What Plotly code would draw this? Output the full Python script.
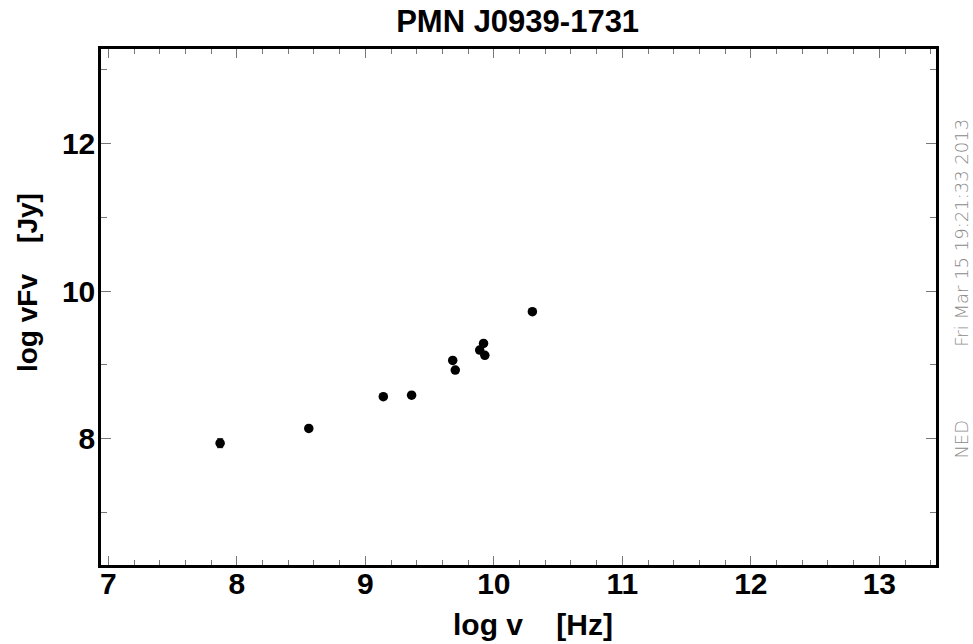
import plotly.graph_objects as go

# Data (log frequency [Hz], log nuFnu [Jy])
log_nu = [7.87, 8.56, 9.14, 9.36, 9.68, 9.70, 9.92, 9.89, 9.93, 10.30]
log_nufnu = [7.94, 8.14, 8.57, 8.59, 9.06, 8.93, 9.29, 9.20, 9.13, 9.72]
err = [0.06, 0, 0, 0, 0, 0, 0, 0, 0, 0]

NB = "\u00a0"
title_text = "PMN J0939-1731"
x_title = "log v" + NB * 4 + "[Hz]"
y_title = "log vFv" + NB * 4 + "[Jy]"
stamp = "Fri Mar 15 19:21:33 2013"
source = "NED"

fig = go.Figure()
fig.add_trace(go.Scatter(
    x=log_nu, y=log_nufnu, mode="markers",
    marker=dict(size=9.5, color="black"),
    error_y=dict(type="data", array=err, visible=True, color="black", thickness=1, width=3),
    showlegend=False,
))

font_main = "Liberation Sans, Arial, sans-serif"
stamp_font = dict(family="DejaVu Sans, sans-serif", size=18, color="#8a8a8a", weight=300)

fig.update_layout(
    width=973, height=644,
    margin=dict(l=101, r=37, t=49, b=79),
    paper_bgcolor="white", plot_bgcolor="white",
    title=dict(text=title_text, x=0.532, xanchor="center", y=0.967, yanchor="middle",
               font=dict(family=font_main, size=31, color="black", weight="bold")),
    font=dict(family=font_main, color="black"),
    annotations=[
        dict(text=x_title, xref="paper", yref="paper", x=0.517, y=-0.116,
             showarrow=False, xanchor="center", yanchor="middle",
             font=dict(family=font_main, size=30, color="black", weight="bold")),
        dict(text=y_title, xref="paper", yref="paper", x=-0.0886, y=0.5465,
             textangle=-90, showarrow=False, xanchor="center", yanchor="middle",
             font=dict(family=font_main, size=28, color="black", weight="bold")),
        dict(text=stamp, xref="paper", yref="paper", x=1.0, y=0.644, xshift=26,
             textangle=-90, showarrow=False, xanchor="center", yanchor="middle",
             font=stamp_font),
        dict(text=source, xref="paper", yref="paper", x=1.0, y=0.243, xshift=26,
             textangle=-90, showarrow=False, xanchor="center", yanchor="middle",
             font=stamp_font),
    ],
)

fig.update_xaxes(
    range=[6.943, 13.441], showgrid=False, zeroline=False,
    showline=True, linecolor="black", linewidth=2.5, mirror="allticks",
    ticks="inside", ticklen=9, tickwidth=1, tickcolor="#777",
    tick0=0, dtick=1, ticklabelstandoff=-10,
    minor=dict(ticks="inside", ticklen=5, tickwidth=1, tickcolor="#777", dtick=0.2, tick0=0, showgrid=False),
    tickfont=dict(family=font_main, size=30, color="black", weight="bold"),
)
fig.update_yaxes(
    range=[6.292, 13.275], showgrid=False, zeroline=False,
    showline=True, linecolor="black", linewidth=2.5, mirror="allticks",
    ticks="inside", ticklen=10, tickwidth=1, tickcolor="#777",
    tick0=0, dtick=2, ticklabelstandoff=-3,
    minor=dict(ticks="inside", ticklen=6, tickwidth=1, tickcolor="#777", dtick=1, tick0=0, showgrid=False),
    tickfont=dict(family=font_main, size=30, color="black", weight="bold"),
)

fig.write_html("out.html")
